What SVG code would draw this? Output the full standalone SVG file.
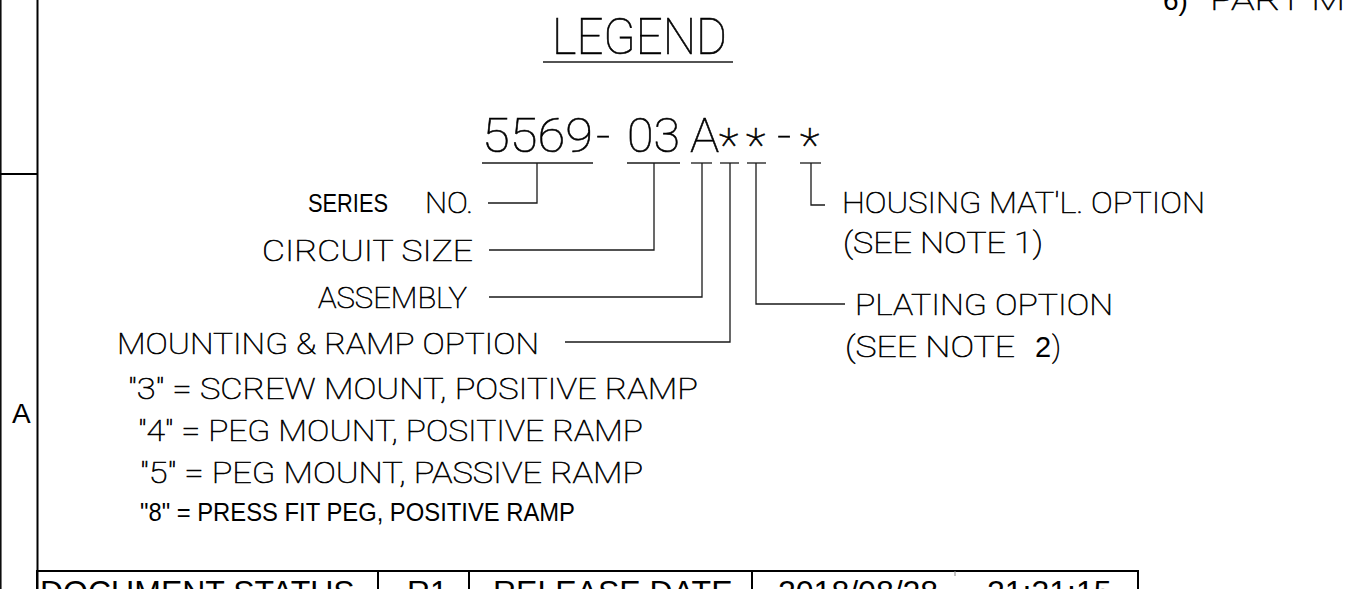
<svg xmlns="http://www.w3.org/2000/svg" width="1351" height="589" viewBox="0 0 1351 589">
<style>
.cad{font-family:Roboto,"Liberation Sans",sans-serif;font-weight:100;fill:#000;stroke:#000;stroke-width:0.6px;}
.lbl{font-size:29.5px;}
.arial{font-family:"Liberation Sans",Arial,sans-serif;font-weight:400;fill:#000;stroke:none;}
.ln{stroke:#1a1a1a;stroke-width:1.3;fill:none;}
.bd{stroke:#000;stroke-width:2;fill:none;}
</style>
<rect width="1351" height="589" fill="#fff"/>
<g id="frame">
<line class="bd" x1="0.8" y1="0" x2="0.8" y2="589" style="stroke-width:1.5"/>
<line class="bd" x1="37.5" y1="0" x2="37.5" y2="589"/>
<line class="bd" x1="0" y1="174" x2="38" y2="174"/>
<text class="arial" x="12" y="423" font-size="28">A</text>
</g>
<g id="title-block">
<polyline class="bd" points="37,589 37,571 1138,571 1138,589"/>
<line class="bd" x1="378" y1="571" x2="378" y2="589"/>
<line class="bd" x1="469" y1="571" x2="469" y2="589"/>
<line class="bd" x1="752" y1="571" x2="752" y2="589"/>
<line x1="955" y1="571" x2="955" y2="576" stroke="#888" stroke-width="1"/>
<text class="arial" x="40" y="603" font-size="32">DOCUMENT STATUS</text>
<text class="arial" x="407" y="603" font-size="32">R1</text>
<text class="arial" x="493" y="603" font-size="32">RELEASE DATE</text>
<text class="arial" x="778" y="603" font-size="32">2018/08/28</text>
<text class="arial" x="987" y="603" font-size="32">21:31:15</text>
</g>
<g id="note-header">
<text class="arial" x="1163" y="10" font-size="28">6)</text>
<text class="cad" x="1210" y="10" font-size="30" textLength="135" lengthAdjust="spacingAndGlyphs">PART M</text>
</g>
<g id="legend-title">
<text class="cad" x="552" y="54" font-size="50.6" textLength="175" lengthAdjust="spacingAndGlyphs">LEGEND</text>
<line class="ln" x1="543" y1="62" x2="733" y2="62"/>
</g>
<g id="part-number">
<text class="cad" y="152" font-size="49"><tspan x="482" textLength="111" lengthAdjust="spacingAndGlyphs">5569</tspan><tspan x="596">-</tspan><tspan x="627" textLength="53" lengthAdjust="spacingAndGlyphs">03</tspan><tspan x="690">A</tspan><tspan x="719" y="161" font-size="46">*</tspan><tspan x="746" y="161" font-size="46">*</tspan><tspan x="777" y="152">-</tspan><tspan x="800" y="161" font-size="46">*</tspan></text>
<line class="ln" x1="482" y1="163" x2="593" y2="163"/>
<line class="ln" x1="627" y1="163" x2="680" y2="163"/>
<line class="ln" x1="691" y1="163" x2="712" y2="163"/>
<line class="ln" x1="720" y1="163" x2="739" y2="163"/>
<line class="ln" x1="747" y1="163" x2="766" y2="163"/>
<line class="ln" x1="800" y1="163" x2="821" y2="163"/>
</g>
<g id="connectors">
<polyline class="ln" points="537,163 537,203 488,203"/>
<polyline class="ln" points="654,163 654,250 489,250"/>
<polyline class="ln" points="702,163 702,297 489,297"/>
<polyline class="ln" points="730,163 730,342 565,342"/>
<polyline class="ln" points="756,163 756,304 845,304"/>
<polyline class="ln" points="811,163 811,205 825,205"/>
</g>
<g id="label-series">
<text class="arial" x="308" y="212" font-size="25" textLength="80" lengthAdjust="spacingAndGlyphs">SERIES</text>
<text class="cad lbl" x="425" y="213" textLength="48" lengthAdjust="spacingAndGlyphs">NO.</text>
</g>
<g id="label-circuit">
<text class="cad lbl" x="262" y="261" textLength="211" lengthAdjust="spacingAndGlyphs">CIRCUIT SIZE</text>
</g>
<g id="label-assembly">
<text class="cad lbl" x="318" y="308" textLength="149" lengthAdjust="spacingAndGlyphs">ASSEMBLY</text>
</g>
<g id="label-mounting">
<text class="cad lbl" x="117" y="354" textLength="422" lengthAdjust="spacingAndGlyphs">MOUNTING &amp; RAMP OPTION</text>
<text class="cad lbl" x="128" y="399" textLength="570" lengthAdjust="spacingAndGlyphs">"3" = SCREW MOUNT, POSITIVE RAMP</text>
<text class="cad lbl" x="138" y="441" textLength="505" lengthAdjust="spacingAndGlyphs">"4" = PEG MOUNT, POSITIVE RAMP</text>
<text class="cad lbl" x="140" y="483" textLength="503" lengthAdjust="spacingAndGlyphs">"5" = PEG MOUNT, PASSIVE RAMP</text>
<text class="arial" x="140" y="521" font-size="25" textLength="435" lengthAdjust="spacingAndGlyphs">"8" = PRESS FIT PEG, POSITIVE RAMP</text>
</g>
<g id="label-housing">
<text class="cad lbl" x="842" y="213" textLength="363" lengthAdjust="spacingAndGlyphs">HOUSING MAT'L. OPTION</text>
<text class="cad lbl" x="843" y="253" textLength="200" lengthAdjust="spacingAndGlyphs">(SEE NOTE 1)</text>
</g>
<g id="label-plating">
<text class="cad lbl" x="855" y="315" textLength="258" lengthAdjust="spacingAndGlyphs">PLATING OPTION</text>
<text class="cad lbl" y="357"><tspan x="845" textLength="170" lengthAdjust="spacingAndGlyphs">(SEE NOTE</tspan><tspan class="arial" x="1035" font-size="29">2</tspan><tspan x="1052">)</tspan></text>
</g>
</svg>
